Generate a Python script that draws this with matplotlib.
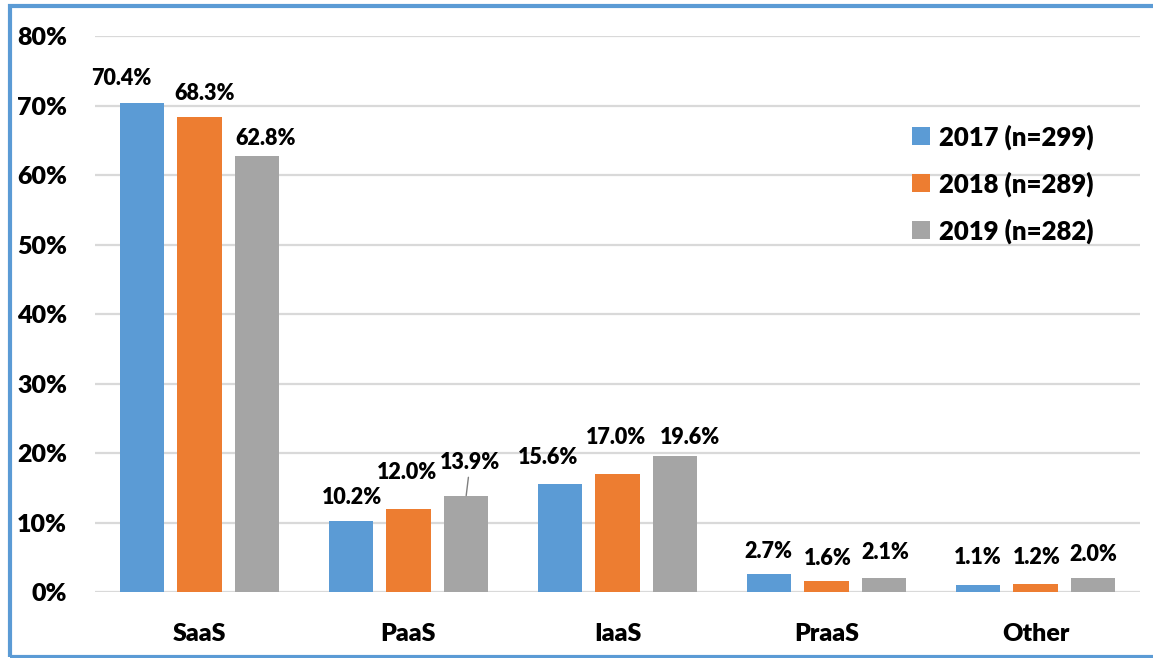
import matplotlib
matplotlib.use("Agg")
import matplotlib.pyplot as plt
from matplotlib.patches import Patch, Rectangle
import numpy as np

# Cloud service model adoption by survey year
categories = ["SaaS", "PaaS", "IaaS", "PraaS", "Other"]
years = ["2017 (n=299)", "2018 (n=289)", "2019 (n=282)"]
values_2017 = [70.4, 10.2, 15.6, 2.7, 1.1]
values_2018 = [68.3, 12.0, 17.0, 1.6, 1.2]
values_2019 = [62.8, 13.9, 19.6, 2.1, 2.0]
y_ticks = [0, 10, 20, 30, 40, 50, 60, 70, 80]

colors = ["#5B9BD5", "#ED7D31", "#A5A5A5"]
series = [values_2017, values_2018, values_2019]

# Label nudges (pixels) relative to each bar's top centre
label_dx = [[-21, 1, -12, 0, 0],
            [5, -1, -1, 1, 1],
            [8, 4, 15, 1, 0]]
label_dy = [[24, 24, 26, 22, 27],
            [24, 36, 37, 23, 26],
            [17, 33, 19, 25, 24]]

WEIGHT = "heavy"
plt.rcParams["font.family"] = ["Lato", "DejaVu Sans"]
plt.rcParams["font.weight"] = WEIGHT

fig = plt.figure(figsize=(11.53, 6.58), dpi=100)
W, H = 1153, 658
ax = fig.add_axes([95 / W, (H - 592.3) / H, (1140 - 95) / W, (592.3 - 36) / H])

x = np.arange(len(categories))
bar_w = 0.212
step = 0.276

for k, (vals, col) in enumerate(zip(series, colors)):
    xs = x + (k - 1) * step
    ax.bar(xs, vals, width=bar_w, color=col, zorder=3, label=years[k])
    for i, v in enumerate(vals):
        kw = dict(textcoords="offset pixels", ha="center", va="center",
                  fontsize=15.5, fontweight=WEIGHT, color="#000000", zorder=4)
        if k == 2 and i == 1:
            kw["arrowprops"] = dict(arrowstyle="-", color="#7F7F7F", lw=1.0,
                                    shrinkA=1, shrinkB=0)
        ax.annotate(f"{v:.1f}%", xy=(xs[i], v),
                    xytext=(label_dx[k][i], label_dy[k][i]), **kw)

ax.set_xlim(-0.5, len(categories) - 0.5)
ax.set_ylim(0, 80)
ax.set_yticks(y_ticks)
ax.set_yticklabels([f"{t}%" for t in y_ticks], fontsize=18, fontweight=WEIGHT)
ax.set_xticks(x)
ax.set_xticklabels(categories, fontsize=18, fontweight=WEIGHT)
ax.tick_params(axis="both", length=0)
ax.tick_params(axis="y", pad=20)
ax.tick_params(axis="x", pad=22)
ax.yaxis.grid(True, color="#D9D9D9", linewidth=1.6, zorder=0)
ax.set_axisbelow(True)
for s in ax.spines.values():
    s.set_visible(False)

handles = [Patch(facecolor=c, edgecolor="none") for c in colors]
leg = ax.legend(handles, years, loc="upper left",
                bbox_to_anchor=(912 / W, (H - 124) / H), bbox_transform=fig.transFigure,
                frameon=False, fontsize=18.5, handlelength=0.7, handleheight=0.7,
                handletextpad=0.35, labelspacing=0.84, borderpad=0, borderaxespad=0)
for t in leg.get_texts():
    t.set_fontweight(WEIGHT)

# Outer chart border
fig.patches.append(Rectangle((9.5 / W, 1.5 / H), (W + 20) / W, (H - 7.5) / H,
                             transform=fig.transFigure, fill=False,
                             edgecolor="#5B9BD5", linewidth=3, zorder=10))

fig.savefig("out.png", dpi=100, facecolor="white")
